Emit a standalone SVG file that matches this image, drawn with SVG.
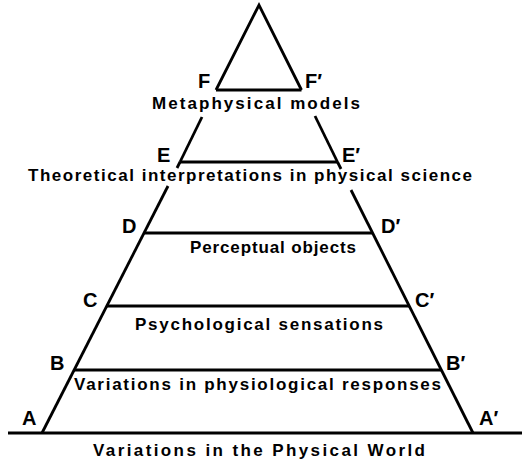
<svg xmlns="http://www.w3.org/2000/svg" width="532" height="465" viewBox="0 0 532 465">
<style>
.ln{stroke:#000;stroke-width:2.8;fill:none;stroke-linecap:butt}
.lv{font-family:"Liberation Sans",Arial,sans-serif;font-weight:bold;font-size:20px;fill:#000}
.tx{font-family:"Liberation Sans",Arial,sans-serif;font-weight:bold;font-size:17px;fill:#000}
</style>
<rect width="532" height="465" fill="#fff"/>
<g id="connectors">
<line class="ln" x1="8" y1="433" x2="522" y2="433"/>
<polyline class="ln" points="216,90 259,5 301.5,90"/>
<line class="ln" x1="216" y1="90" x2="301.5" y2="90"/>
<line class="ln" x1="202" y1="117" x2="180" y2="162"/>
<line class="ln" x1="315" y1="116" x2="337.5" y2="162"/>
<line class="ln" x1="180" y1="162" x2="337.5" y2="162"/>
<line class="ln" x1="180" y1="162" x2="177" y2="168"/>
<line class="ln" x1="337.5" y1="162" x2="341" y2="169"/>
<line class="ln" x1="168" y1="186" x2="42" y2="433"/>
<line class="ln" x1="351" y1="190" x2="473" y2="433"/>
<line class="ln" x1="144" y1="233" x2="373" y2="233"/>
<line class="ln" x1="107" y1="306" x2="409.5" y2="306"/>
<line class="ln" x1="74" y1="370" x2="441.5" y2="370"/>
</g>
<g id="F"><text class="lv" x="198" y="88">F</text></g>
<g id="F2"><text class="lv" x="305" y="88">F′</text></g>
<g id="E"><text class="lv" x="157" y="162">E</text></g>
<g id="E2"><text class="lv" x="342" y="162">E′</text></g>
<g id="D"><text class="lv" x="122" y="233">D</text></g>
<g id="D2"><text class="lv" x="381" y="233">D′</text></g>
<g id="C"><text class="lv" x="83" y="307">C</text></g>
<g id="C2"><text class="lv" x="415" y="307">C′</text></g>
<g id="B"><text class="lv" x="50" y="370">B</text></g>
<g id="B2"><text class="lv" x="446" y="370">B′</text></g>
<g id="A"><text class="lv" x="22" y="425">A</text></g>
<g id="A2"><text class="lv" x="479" y="425">A′</text></g>
<g id="metaphysical"><text class="tx" x="152" y="109" textLength="208" lengthAdjust="spacing">Metaphysical  models</text></g>
<g id="theoretical"><text class="tx" x="28" y="181" textLength="444" lengthAdjust="spacing">Theoretical interpretations in physical science</text></g>
<g id="perceptual"><text class="tx" x="190" y="253" textLength="166" lengthAdjust="spacing">Perceptual  objects</text></g>
<g id="psychological"><text class="tx" x="135" y="330" textLength="248" lengthAdjust="spacing">Psychological  sensations</text></g>
<g id="physiological"><text class="tx" x="74" y="390" textLength="367" lengthAdjust="spacing">Variations in physiological responses</text></g>
<g id="physical"><text class="tx" x="93" y="456" textLength="332" lengthAdjust="spacing">Variations in the Physical World</text></g>
</svg>
